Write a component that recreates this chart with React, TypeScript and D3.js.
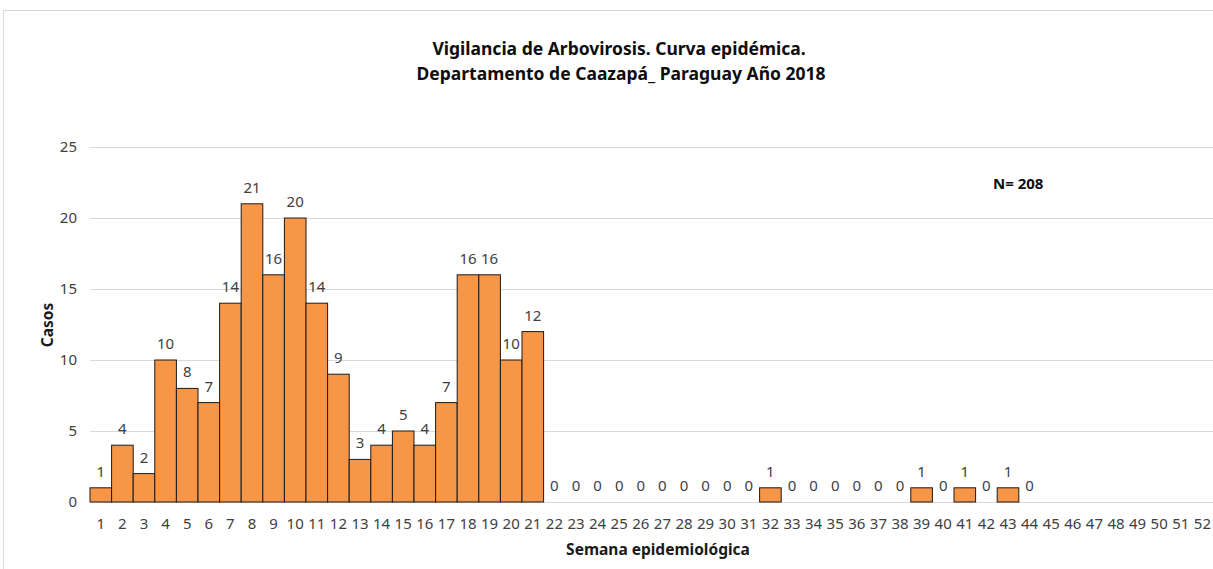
import React, { useRef, useEffect } from 'react';
import * as d3 from 'd3';

const weeks: number[] = d3.range(1, 53);
const casos: (number | null)[] = [
  1, 4, 2, 10, 8, 7, 14, 21, 16, 20, 14, 9, 3, 4, 5, 4, 7, 16, 16, 10, 12,
  0, 0, 0, 0, 0, 0, 0, 0, 0, 0, 1, 0, 0, 0, 0, 0, 0, 1, 0, 1, 0, 1, 0,
  null, null, null, null, null, null, null, null,
];
const yTicks: number[] = [0, 5, 10, 15, 20, 25];
const titleLines: string[] = [
  'Vigilancia de Arbovirosis. Curva epidémica.',
  'Departamento de Caazapá_ Paraguay Año 2018',
];
const totalLabel = 'N= 208';

const App = () => {
  const svgRef = useRef<SVGSVGElement>(null);

  useEffect(() => {
    const width = 1213;
    const height = 569;
    const margin = { top: 147, right: 0, bottom: 67, left: 90 };
    const font = "'Segoe UI', 'Noto Sans', sans-serif";

    const root = d3.select(svgRef.current);
    root.selectAll('*').remove();
    root.attr('width', width).attr('height', height);

    // outer frame
    root.append('rect')
      .attr('x', 3.5).attr('y', 10.5)
      .attr('width', width + 10).attr('height', height + 10)
      .attr('fill', 'white').attr('stroke', '#d9d9d9');

    const innerWidth = width - margin.left - margin.right;
    const innerHeight = height - margin.top - margin.bottom;

    const x = d3.scaleBand<number>()
      .domain(weeks)
      .range([0, 52 * 21.6])
      .padding(0);

    const y = d3.scaleLinear().domain([0, 25]).range([innerHeight, 0]);

    const g = root.append('g')
      .attr('transform', `translate(${margin.left}, ${margin.top})`);

    // gridlines
    g.selectAll('.grid')
      .data(yTicks)
      .enter()
      .append('line')
      .attr('x1', 0).attr('x2', innerWidth)
      .attr('y1', d => Math.round(y(d)) + 0.5)
      .attr('y2', d => Math.round(y(d)) + 0.5)
      .attr('stroke', '#d9d9d9');

    // y tick labels
    g.selectAll('.ytick')
      .data(yTicks)
      .enter()
      .append('text')
      .attr('x', -13)
      .attr('y', d => y(d))
      .attr('dy', '0.35em')
      .attr('text-anchor', 'end')
      .attr('font-family', font)
      .attr('font-size', 15)
      .attr('fill', '#404040')
      .text(d => d);

    const data = weeks.map((w, i) => ({ w, v: casos[i] }));

    // bars
    g.selectAll('.bar')
      .data(data.filter(d => d.v !== null && (d.v as number) > 0))
      .enter()
      .append('rect')
      .attr('x', d => x(d.w) as number)
      .attr('y', d => y(d.v as number))
      .attr('width', x.bandwidth())
      .attr('height', d => innerHeight - y(d.v as number))
      .attr('fill', '#f79646')
      .attr('stroke', '#1a1a1a')
      .attr('stroke-width', 1);

    // value labels
    g.selectAll('.lbl')
      .data(data.filter(d => d.v !== null))
      .enter()
      .append('text')
      .attr('x', d => (x(d.w) as number) + x.bandwidth() / 2)
      .attr('y', d => y(d.v as number) - 11)
      .attr('text-anchor', 'middle')
      .attr('font-family', font)
      .attr('font-size', 15)
      .attr('fill', '#404040')
      .text(d => d.v as number);

    // x tick labels
    g.selectAll('.xtick')
      .data(weeks)
      .enter()
      .append('text')
      .attr('x', d => (x(d) as number) + x.bandwidth() / 2)
      .attr('y', innerHeight + 27)
      .attr('text-anchor', 'middle')
      .attr('font-family', font)
      .attr('font-size', 15)
      .attr('fill', '#404040')
      .text(d => d);

    // axis titles
    root.append('text')
      .attr('x', 658).attr('y', 555)
      .attr('text-anchor', 'middle')
      .attr('font-family', font)
      .attr('font-size', 15.5)
      .attr('font-weight', 'bold')
      .attr('fill', '#1a1a1a')
      .text('Semana epidemiológica');

    root.append('text')
      .attr('transform', 'translate(53, 325) rotate(-90)')
      .attr('text-anchor', 'middle')
      .attr('font-family', font)
      .attr('font-size', 15.5)
      .attr('font-weight', 'bold')
      .attr('fill', '#1a1a1a')
      .text('Casos');

    // title
    root.selectAll('.title')
      .data(titleLines)
      .enter()
      .append('text')
      .attr('x', (d, i) => 619 + i * 2)
      .attr('y', (d, i) => 55 + i * 25)
      .attr('text-anchor', 'middle')
      .attr('font-family', font)
      .attr('font-size', 17.5)
      .attr('font-weight', 'bold')
      .attr('fill', '#0d0d0d')
      .text(d => d);

    root.append('text')
      .attr('x', 993).attr('y', 189)
      .attr('font-family', font)
      .attr('font-size', 15)
      .attr('font-weight', 'bold')
      .attr('fill', '#0d0d0d')
      .text(totalLabel);
  }, []);

  return (
    <div style={{ position: 'absolute', left: 0, top: 0 }}>
      <svg ref={svgRef} style={{ display: 'block' }}></svg>
    </div>
  );
};

export default App;
